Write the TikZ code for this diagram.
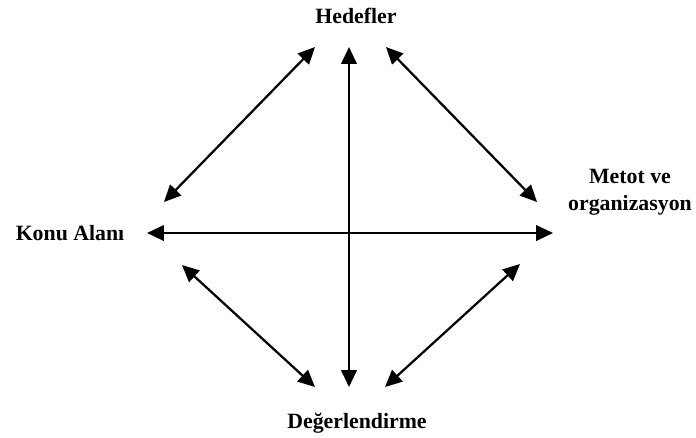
\documentclass[tikz,border=0pt]{standalone}
\usepackage{fontspec}
\setmainfont{Liberation Serif}
\usetikzlibrary{arrows.meta,positioning}

\begin{document}
\begin{tikzpicture}[
    x=0.025cm, y=-0.025cm,
    lbl/.style={font=\fontsize{15.5}{19}\selectfont\bfseries, align=center, inner sep=0pt},
    arr/.style={{Triangle[length=12pt,width=11pt]}-{Triangle[length=12pt,width=11pt]}, line width=1.6pt}
]
\useasboundingbox (0,0) rectangle (696,437);

\node[lbl, anchor=base] (hedef) at (356,23) {Hedefler};
\node[lbl, anchor=base] (konu) at (70,240) {Konu Alanı};
\node[lbl, anchor=base] (metot) at (630,210) {Metot ve\\organizasyon};
\node[lbl, anchor=base] (deger) at (357,428) {Değerlendirme};

% uclar
\coordinate (ust) at (349,47);
\coordinate (alt) at (349,387);
\coordinate (sol) at (147,233);
\coordinate (sag) at (553,233);
\coordinate (a1) at (315,47);
\coordinate (a2) at (164,202);
\coordinate (b1) at (386,47);
\coordinate (b2) at (537,202);
\coordinate (c1) at (182,265);
\coordinate (c2) at (315,387);
\coordinate (d1) at (520,264);
\coordinate (d2) at (385,387);

\draw[arr] (ust) -- (alt);
\draw[arr] (sol) -- (sag);
\draw[arr] (a1) -- (a2);
\draw[arr] (b1) -- (b2);
\draw[arr] (c1) -- (c2);
\draw[arr] (d1) -- (d2);
\end{tikzpicture}
\end{document}
